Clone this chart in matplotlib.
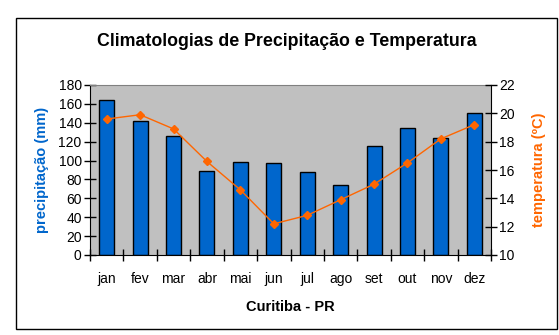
import numpy as np
import matplotlib
matplotlib.use('Agg')
import matplotlib.pyplot as plt
from matplotlib.patches import Rectangle

plt.rcParams['font.family'] = ['Liberation Sans', 'DejaVu Sans']

# dados
meses = ['jan', 'fev', 'mar', 'abr', 'mai', 'jun', 'jul', 'ago', 'set', 'out', 'nov', 'dez']
precipitacao = [164, 142, 126, 89, 98, 97, 88, 74, 115, 134, 124, 150]
temperatura = [19.6, 19.9, 18.9, 16.6, 14.6, 12.2, 12.8, 13.9, 15.0, 16.5, 18.2, 19.2]

azul = '#0066CC'
laranja = '#FF6600'

fig = plt.figure(figsize=(5.59, 3.35), dpi=100)
ax = fig.add_axes([90/559, 1-255/335, 401/559, 170/335])
ax.set_facecolor('#C0C0C0')

x = np.arange(len(meses))
ax.bar(x, precipitacao, width=0.45, color=azul, edgecolor='black', linewidth=1, zorder=2)
ax.set_xlim(-0.5, len(meses)-0.5)
ax.set_ylim(0, 180)
ax.set_yticks(range(0, 181, 20))
ax.set_xticks(np.arange(-0.5, len(meses), 1))
ax.set_xticklabels([])
ax.set_xticks(x, minor=True)
ax.set_xticklabels(meses, minor=True)
ax.tick_params(axis='x', which='major', direction='inout', length=8, width=1)
ax.tick_params(axis='x', which='minor', length=0, pad=12, labelsize=10)
ax.tick_params(axis='y', direction='inout', length=8, width=1, labelsize=10, pad=2)
ax.set_ylabel('precipitação (mm)', color=azul, fontsize=10.5, fontweight='bold', labelpad=7)
ax.set_xlabel('Curitiba - PR', fontsize=10.5, fontweight='bold', labelpad=10)
ax.spines['top'].set_color('#808080')
ax.spines['right'].set_visible(False)

ax2 = ax.twinx()
ax2.plot(x, temperatura, color=laranja, marker='D', markersize=4.5, linewidth=1, zorder=3)
ax2.set_ylim(10, 22)
ax2.set_yticks(range(10, 23, 2))
ax2.tick_params(axis='y', direction='inout', length=8, width=1, labelsize=10, pad=2)
ax2.set_ylabel('temperatura (ºC)', color=laranja, fontsize=10.5, fontweight='bold', labelpad=12)
ax2.spines['top'].set_visible(False)
ax2.spines['left'].set_visible(False)
ax2.spines['bottom'].set_visible(False)

fig.text(287/559, 1-42/335, 'Climatologias de Precipitação e Temperatura',
         ha='center', va='center', fontsize=12.8, fontweight='bold')

# moldura externa
fig.patches.append(Rectangle((16/559, 1-329/335), 541/559, 311/335, transform=fig.transFigure,
                             fill=False, edgecolor='black', linewidth=1))

fig.savefig('out.png', dpi=100)
